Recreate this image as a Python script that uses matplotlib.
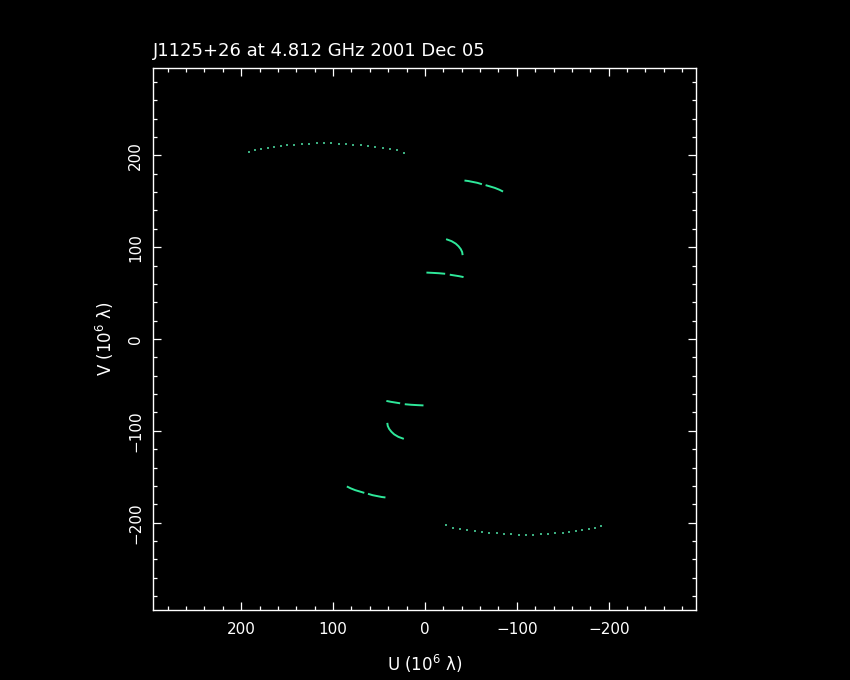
import matplotlib
matplotlib.use('Agg')
import matplotlib.pyplot as plt
import numpy as np

title = 'J1125+26 at 4.812 GHz 2001 Dec 05'

# sparse (dim) arc, upper half; the lower arc is its conjugate (-u, -v)
arc_u = [192, 185, 178, 171, 164, 157, 150, 142, 134, 126, 118, 110, 102,
         94, 86, 78, 70, 62, 54, 46, 38, 30, 23]
arc_v = [204, 205.5, 207, 208, 209, 210, 211, 211.5, 212, 212.5, 213, 213, 213,
         212.5, 212, 211.5, 211, 210, 209, 208, 207, 206, 203]

# dense tracks, one half; the other half is the conjugate
trk_a1_u = [-43, -47, -52, -57, -62]
trk_a1_v = [172.5, 172, 171, 170, 168.5]
trk_a2_u = [-66, -71, -76, -81, -85]
trk_a2_v = [167.5, 166, 164.5, 162.5, 160.5]
trk_b_u = [-23, -29, -33.5, -36.5, -39, -40.5, -41]
trk_b_v = [108.7, 106.5, 103.8, 101, 97.8, 94.6, 91.3]
trk_c1_u = [-1.6, -8, -15, -22]
trk_c1_v = [72.3, 72, 71.6, 71]
trk_c2_u = [-27, -32, -37, -42]
trk_c2_v = [70, 69.2, 68.4, 67.4]

tracks = [(trk_a1_u, trk_a1_v), (trk_a2_u, trk_a2_v), (trk_b_u, trk_b_v),
          (trk_c1_u, trk_c1_v), (trk_c2_u, trk_c2_v)]

col = '#2ee89a'

fig = plt.figure(figsize=(8.5, 6.8), dpi=100, facecolor='black')
ax = fig.add_axes([153 / 850, 70 / 680, 543 / 850, 542 / 680], facecolor='black')

for sgn in (1, -1):
    u = sgn * np.array(arc_u)
    v = sgn * np.array(arc_v)
    ax.plot(u, v, linestyle='none', marker='s', markersize=1.5,
            color='#3cae80', markeredgewidth=0)
    for tu, tv in tracks:
        ax.plot(sgn * np.array(tu), sgn * np.array(tv), color=col, lw=1.4,
                solid_capstyle='butt')

ax.set_xlim(296, -295)
ax.set_ylim(-295, 295)
ax.set_xticks([200, 100, 0, -100, -200])
ax.set_yticks([-200, -100, 0, 100, 200])
ax.set_xticks(np.arange(-280, 281, 20), minor=True)
ax.set_yticks(np.arange(-280, 281, 20), minor=True)

for s in ax.spines.values():
    s.set_color('white')
    s.set_linewidth(1.0)
ax.tick_params(which='both', direction='in', colors='white', top=True, right=True,
               labelsize=11, width=0.9)
ax.tick_params(which='major', length=6)
ax.tick_params(which='minor', length=3)
ax.tick_params(axis='x', pad=9)
ax.tick_params(axis='y', pad=7)
for lab in ax.get_yticklabels():
    lab.set_rotation(90)
    lab.set_va('center')

ax.set_xlabel('U (10$^6$ λ)', color='white', fontsize=12, labelpad=11)
ax.set_ylabel('V (10$^6$ λ)', color='white', fontsize=12, labelpad=9)
ax.set_title(title, color='white', fontsize=13, loc='left', pad=9)

fig.savefig('out.png', dpi=100, facecolor='black')
